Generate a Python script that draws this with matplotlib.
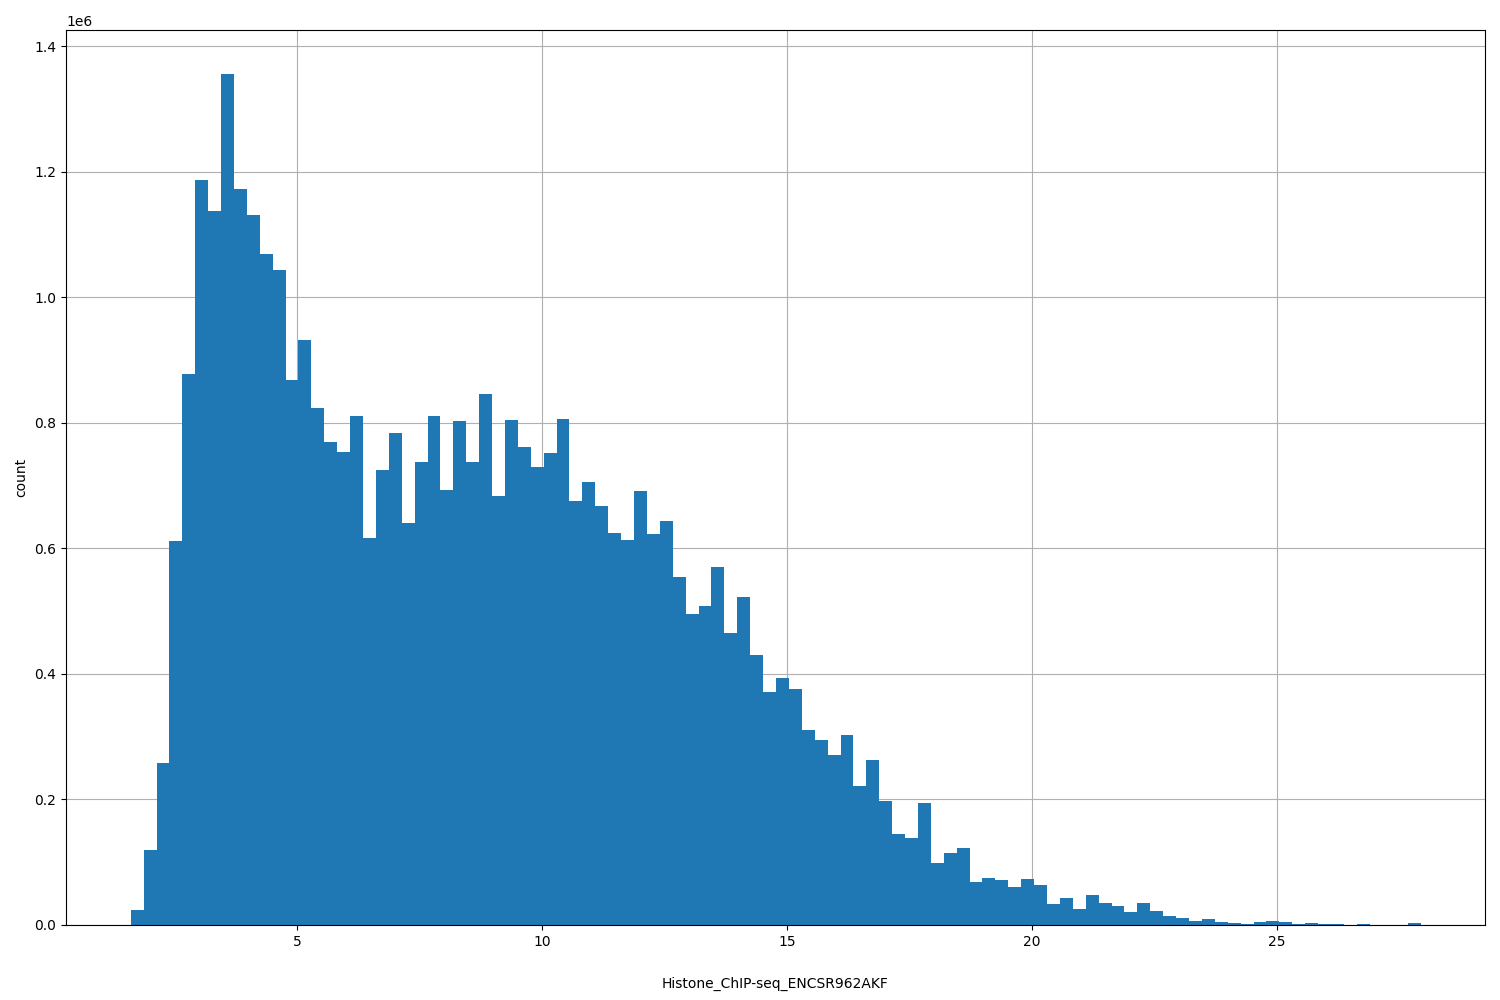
import numpy as np
import matplotlib.pyplot as plt

# histogram of the column, 100 bins
lo, hi = 1.61, 27.94
counts = [0.024, 0.12, 0.258, 0.612, 0.878, 1.187, 1.137, 1.355, 1.172, 1.131,
          1.068, 1.044, 0.868, 0.931, 0.824, 0.77, 0.754, 0.81, 0.617, 0.724,
          0.784, 0.641, 0.737, 0.81, 0.693, 0.803, 0.738, 0.846, 0.684, 0.805,
          0.761, 0.73, 0.751, 0.806, 0.676, 0.705, 0.667, 0.625, 0.614, 0.691,
          0.622, 0.643, 0.554, 0.495, 0.508, 0.57, 0.465, 0.522, 0.43, 0.371,
          0.393, 0.376, 0.311, 0.294, 0.27, 0.303, 0.222, 0.263, 0.198, 0.145,
          0.139, 0.195, 0.099, 0.114, 0.123, 0.068, 0.075, 0.072, 0.06, 0.074,
          0.064, 0.033, 0.043, 0.026, 0.048, 0.035, 0.03, 0.021, 0.035, 0.022,
          0.014, 0.011, 0.007, 0.01, 0.004, 0.003, 0.001, 0.005, 0.007, 0.004,
          0.001, 0.003, 0.002, 0.001, 0.0005, 0.002, 0.0005, 0.0005, 0.0005, 0.003]
counts = np.array(counts) * 1e6
edges = np.linspace(lo, hi, len(counts) + 1)

fig = plt.figure(figsize=(15, 10), dpi=100)
ax = fig.add_axes([0.044, 0.075, 0.946, 0.895])
ax.bar(edges[:-1], counts, width=np.diff(edges), align='edge', color='#1f77b4', zorder=2)
ax.grid(True, zorder=0)
ax.set_axisbelow(True)
ax.set_xlim(0.29, 29.24)
ax.set_ylim(0, 1.4255e6)
ax.set_xlabel('Histone_ChIP-seq_ENCSR962AKF', labelpad=20)
ax.set_ylabel('count')
fig.savefig('out.png')
